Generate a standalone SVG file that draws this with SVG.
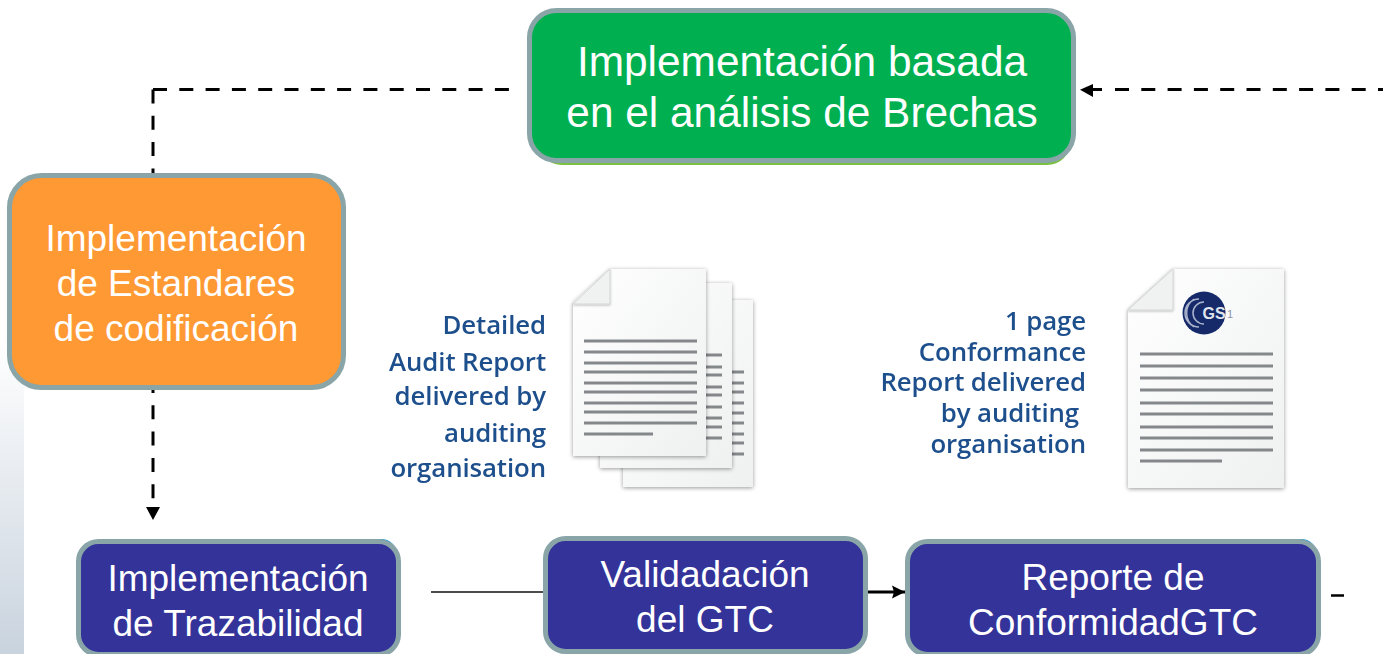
<svg xmlns="http://www.w3.org/2000/svg" width="1383" height="654" viewBox="0 0 1383 654">
<style>
.box{stroke:#8aa5a8;stroke-width:5}
.lbl{font-family:"Liberation Sans",Arial,sans-serif;fill:#fff;text-anchor:middle;font-size:37px}
.big{font-size:42.400px}
.dash{fill:none;stroke:#000;stroke-width:3;stroke-dasharray:14 12.3}
.cap{font-family:"Open Sans","Noto Sans",sans-serif;font-weight:600;fill:#1d4f8c;text-anchor:end;font-size:25.800px;letter-spacing:-.1px}
.page{fill:url(#paper);filter:url(#shadow)}
.rule{stroke:#85888b;stroke-width:3;fill:none}
.fold{fill:#f0f1f1;stroke:#d5d6d6;stroke-width:1;filter:url(#foldshadow)}
</style>
<defs>
<linearGradient id="strip" x1="0" y1="0" x2="0" y2="1"><stop offset="0" stop-color="#fff"/><stop offset="1" stop-color="#c9d3de"/></linearGradient>
<linearGradient id="paper" x1="0" y1="0" x2="1" y2="1"><stop offset="0" stop-color="#fff"/><stop offset="1" stop-color="#eff0f0"/></linearGradient>
<filter id="shadow" x="-10%" y="-10%" width="120%" height="120%"><feDropShadow dx="0" dy="1" stdDeviation="2" flood-color="#000" flood-opacity=".4"/></filter>
<filter id="foldshadow" x="-20%" y="-20%" width="140%" height="140%"><feDropShadow dx="0" dy="1" stdDeviation="1" flood-color="#000" flood-opacity=".25"/></filter>
<filter id="soft" x="-5%" y="-5%" width="110%" height="110%"><feGaussianBlur stdDeviation=".6"/></filter>
<marker id="head" markerUnits="userSpaceOnUse" markerWidth="14" markerHeight="14" refX="13" refY="7" orient="auto"><path d="M0 0.5L13 7L0 13.5L2 7Z" fill="#000"/></marker>
</defs>
<rect id="background" x="0" y="340" width="24" height="314" fill="url(#strip)"/>
<g id="connectors">
<path class="dash" d="M153 89.500H510"/>
<path class="dash" d="M153 89.500V174"/>
<path class="dash" d="M153 379V500"/>
<path d="M146 507H160L153 520Z" fill="#000"/>
<path d="M1102 89.500H1093" fill="none" stroke="#000" stroke-width="3"/>
<path d="M1093 84L1080 89.700L1093 97Z" fill="#000"/>
<path class="dash" d="M1115 89.500H1383"/>
<path d="M431 592H545" fill="none" stroke="#111" stroke-width="1.500"/>
<path d="M868 592H905" fill="none" stroke="#000" stroke-width="3" marker-end="url(#head)"/>
<path d="M1331 595.500H1344" fill="none" stroke="#000" stroke-width="2.500"/>
</g>
<g id="node-brechas">
<rect x="538" y="20" width="533" height="145" rx="24" fill="#7ac143"/>
<rect class="box" x="529.500" y="10.500" width="544" height="150" rx="27" fill="#00b050"/>
<text class="lbl big" x="802" y="76">Implementación basada</text>
<text class="lbl big" x="802" y="127">en el análisis de Brechas</text>
</g>
<g id="node-estandares">
<rect class="box" x="9.500" y="175.500" width="334" height="212" rx="32" fill="#ff9933"/>
<text class="lbl" x="176" y="251">Implementación</text>
<text class="lbl" x="176" y="296">de Estandares</text>
<text class="lbl" x="176" y="341">de codificación</text>
</g>
<g id="node-trazabilidad">
<rect x="300" y="539" width="97" height="30" rx="16" fill="#1d9ad6"/>
<rect class="box" x="78.500" y="541.500" width="320" height="113" rx="20" fill="#333399"/>
<text class="lbl" x="238" y="591">Implementación</text>
<text class="lbl" x="238" y="636">de Trazabilidad</text>
</g>
<g id="node-validacion">
<rect class="box" x="545.500" y="538.500" width="320" height="113" rx="20" fill="#333399"/>
<text class="lbl" x="705" y="587">Validadación</text>
<text class="lbl" x="705" y="632">del GTC</text>
</g>
<g id="node-conformidad">
<rect x="920" y="539" width="397" height="30" rx="16" fill="#1d9ad6"/>
<rect class="box" x="907.500" y="541.500" width="411" height="113" rx="20" fill="#333399"/>
<text class="lbl" x="1113" y="590">Reporte de</text>
<text class="lbl" x="1113" y="635">ConformidadGTC</text>
</g>
<g id="node-audit-report">
<g filter="url(#soft)">
<text class="cap" x="546" y="334">Detailed</text>
<text class="cap" x="546" y="371">Audit Report</text>
<text class="cap" x="546" y="405">delivered by</text>
<text class="cap" x="546" y="442">auditing</text>
<text class="cap" x="546" y="477">organisation</text>
</g>
<rect class="page" x="623" y="300" width="130" height="187"/>
<path class="rule" filter="url(#soft)" d="M732 372H744M732 383H744M732 392H744M732 403H744M732 413H744M732 423H744M732 434H744M732 443H744M732 454H744"/>
<rect class="page" x="600" y="283" width="132" height="185"/>
<path class="rule" filter="url(#soft)" d="M706 355H722M706 367H722M706 375H722M706 387H722M706 395H722M706 407H722M706 418H722M706 427H722M706 438H722"/>
<path class="page" d="M610 269H706V456H573V303Z"/>
<path class="fold" d="M610 269V304H573Z"/>
<path class="rule" filter="url(#soft)" d="M584 341H697M584 352H697M584 363H697M584 372H697M584 383H697M584 392H697M584 403H697M584 412H697M584 423H697M584 434H653"/>
</g>
<g id="node-conformance-report">
<g filter="url(#soft)">
<text class="cap" x="1086" y="330">1 page</text>
<text class="cap" x="1086" y="361">Conformance</text>
<text class="cap" x="1086" y="391">Report delivered</text>
<text class="cap" x="1079" y="422">by auditing</text>
<text class="cap" x="1086" y="453">organisation</text>
</g>
<path class="page" d="M1173 269H1284V488H1128V310Z"/>
<path class="fold" d="M1173 269V310H1128Z"/>
<path class="rule" filter="url(#soft)" d="M1140 354H1273M1140 366H1273M1140 378H1273M1140 390H1273M1140 403H1273M1140 414H1273M1140 427H1273M1140 438H1273M1140 450H1273M1140 461H1222"/>
<circle cx="1204" cy="313" r="21.500" fill="#12296b" filter="url(#soft)"/>
<path d="M1194 299A17 17 0 0 0 1194 327M1199 299A14 14 0 0 0 1199 327M1204 302A11 11 0 0 0 1204 324" fill="none" stroke="#aab4cc" stroke-width="1.500" filter="url(#soft)"/>
<text x="1214" y="319" text-anchor="middle" font-family="Liberation Sans,sans-serif" font-weight="700" font-size="16" fill="#dfe4ee">GS</text>
<text x="1227" y="318" font-family="Liberation Sans,sans-serif" font-size="11" fill="#8a93a8">1</text>
</g>
</svg>
